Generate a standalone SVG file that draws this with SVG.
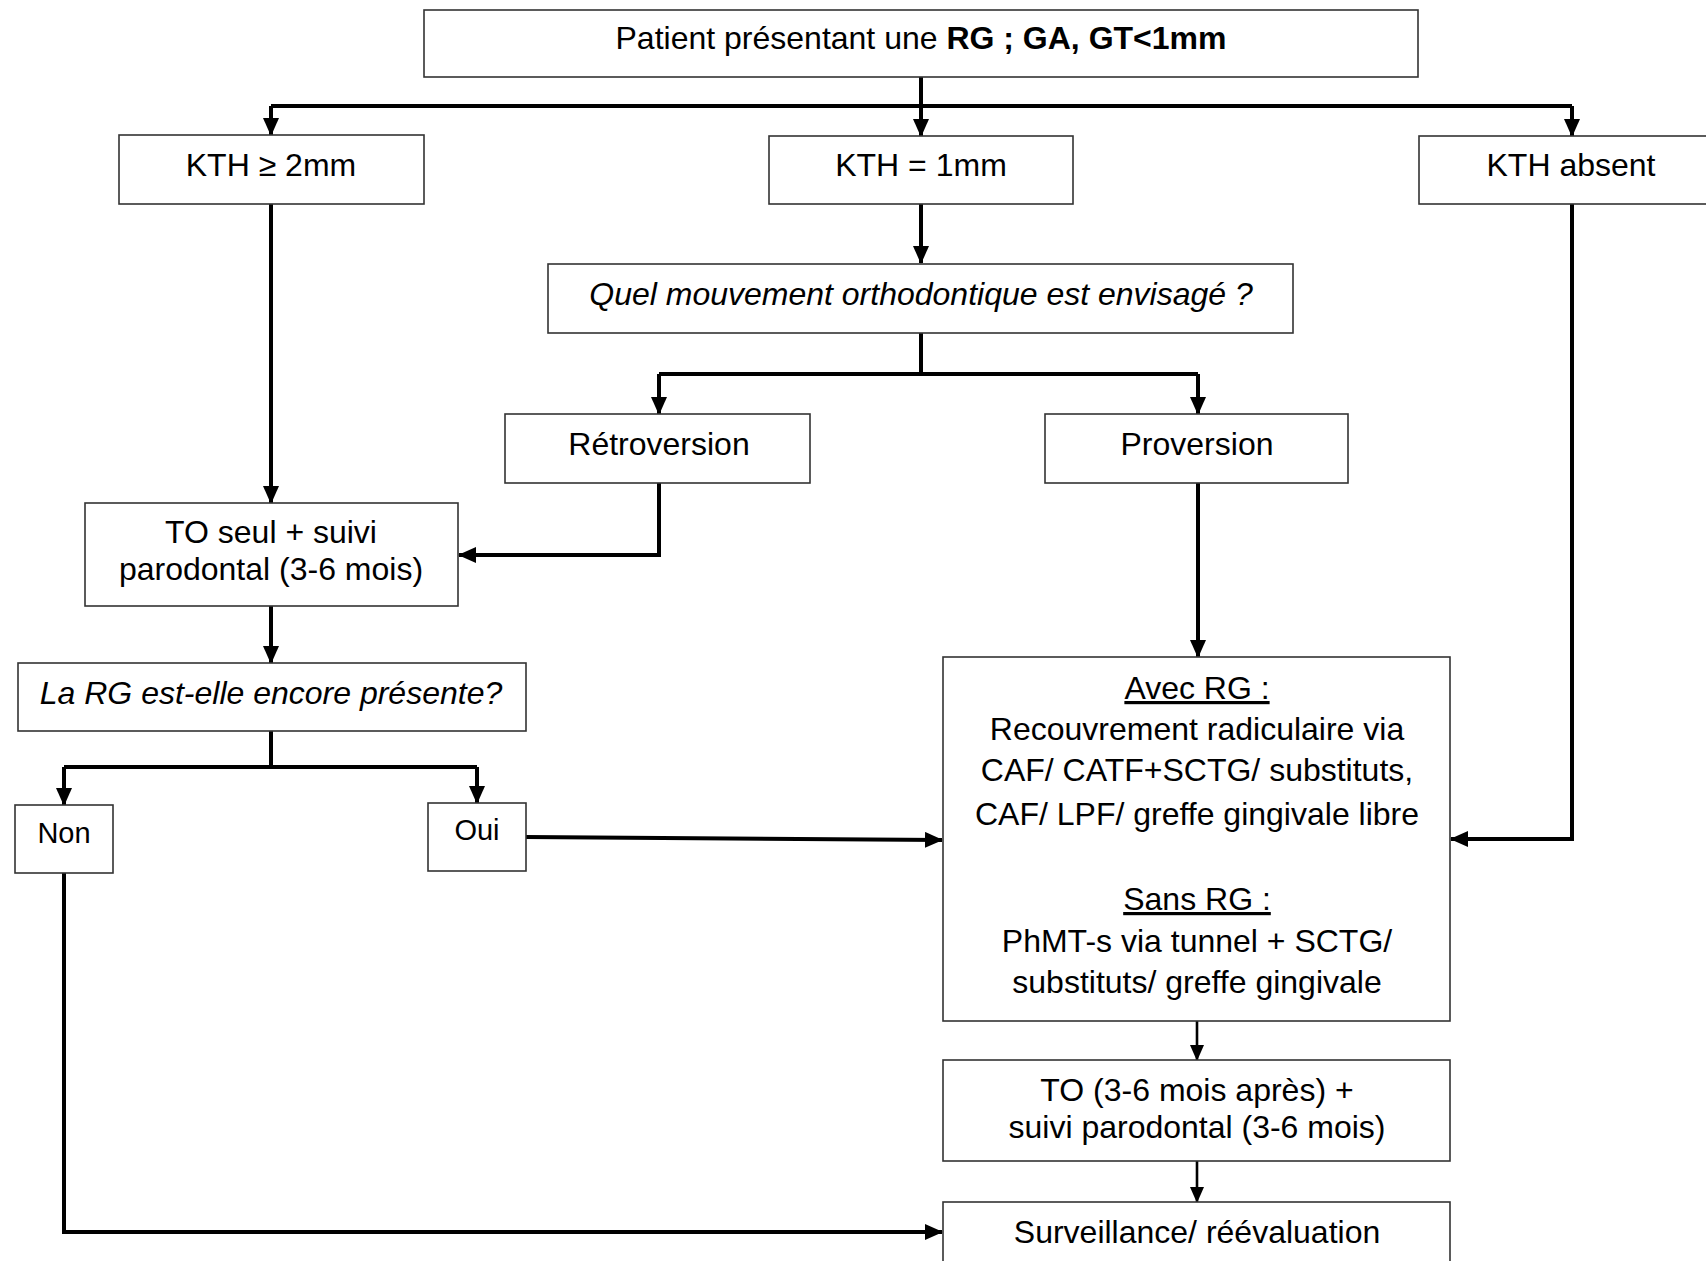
<svg xmlns="http://www.w3.org/2000/svg" width="1706" height="1261" viewBox="0 0 1706 1261">
<defs>
<style>
.box{fill:#fff;stroke:#333;stroke-width:1.6}
.t{font-family:"Liberation Sans",Arial,sans-serif;font-size:32px;fill:#000;text-anchor:middle}
.s{font-size:29px}
.i{font-style:italic}
.u{text-decoration:underline}
.c{fill:none;stroke:#000;stroke-width:4;stroke-linejoin:miter}
.c2{fill:none;stroke:#000;stroke-width:2.6}
</style>
<marker id="a" markerUnits="userSpaceOnUse" markerWidth="18" markerHeight="16" refX="17" refY="8" orient="auto">
<path d="M0,0 L18,8 L0,16 Z" fill="#000"/>
</marker>
<marker id="b" markerUnits="userSpaceOnUse" markerWidth="16" markerHeight="14" refX="15" refY="7" orient="auto">
<path d="M0,0 L16,7 L0,14 Z" fill="#000"/>
</marker>
</defs>
<g id="connectors">
<path class="c" d="M921,77 V106"/>
<path class="c" d="M271,106 H1572"/>
<path class="c" d="M271,106 V135" marker-end="url(#a)"/>
<path class="c" d="M921,106 V136" marker-end="url(#a)"/>
<path class="c" d="M1572,106 V136" marker-end="url(#a)"/>
<path class="c" d="M271,204 V503" marker-end="url(#a)"/>
<path class="c" d="M921,204 V263" marker-end="url(#a)"/>
<path class="c" d="M921,333 V374"/>
<path class="c" d="M659,374 H1198"/>
<path class="c" d="M659,374 V414" marker-end="url(#a)"/>
<path class="c" d="M1198,374 V414" marker-end="url(#a)"/>
<path class="c" d="M659,483 V555 H459" marker-end="url(#a)"/>
<path class="c" d="M1198,483 V657" marker-end="url(#a)"/>
<path class="c" d="M1572,204 V839 H1451" marker-end="url(#a)"/>
<path class="c" d="M271,606 V663" marker-end="url(#a)"/>
<path class="c" d="M271,731 V767"/>
<path class="c" d="M64,767 H477"/>
<path class="c" d="M64,767 V805" marker-end="url(#a)"/>
<path class="c" d="M477,767 V803" marker-end="url(#a)"/>
<path class="c" d="M526,837 L942,840" marker-end="url(#a)"/>
<path class="c" d="M64,873 V1232 H942" marker-end="url(#a)"/>
<path class="c2" d="M1197,1021 V1060" marker-end="url(#b)"/>
<path class="c2" d="M1197,1161 V1202" marker-end="url(#b)"/>
</g>
<g id="n-top">
<rect class="box" x="424" y="10" width="994" height="67"/>
<text class="t" x="921" y="49">Patient présentant une <tspan font-weight="bold">RG ; GA, GT&lt;1mm</tspan></text>
</g>
<g id="n-kth2">
<rect class="box" x="119" y="135" width="305" height="69"/>
<text class="t" x="271" y="176">KTH ≥ 2mm</text>
</g>
<g id="n-kth1">
<rect class="box" x="769" y="136" width="304" height="68"/>
<text class="t" x="921" y="176">KTH = 1mm</text>
</g>
<g id="n-kth0">
<rect class="box" x="1419" y="136" width="300" height="68"/>
<text class="t" x="1571" y="176">KTH absent</text>
</g>
<g id="n-quel">
<rect class="box" x="548" y="264" width="745" height="69"/>
<text class="t i" x="921" y="305">Quel mouvement orthodontique est envisagé ?</text>
</g>
<g id="n-retro">
<rect class="box" x="505" y="414" width="305" height="69"/>
<text class="t" x="659" y="455">Rétroversion</text>
</g>
<g id="n-pro">
<rect class="box" x="1045" y="414" width="303" height="69"/>
<text class="t" x="1197" y="455">Proversion</text>
</g>
<g id="n-toseul">
<rect class="box" x="85" y="503" width="373" height="103"/>
<text class="t" x="271" y="543">TO seul + suivi</text>
<text class="t" x="271" y="580">parodontal (3-6 mois)</text>
</g>
<g id="n-larg">
<rect class="box" x="18" y="663" width="508" height="68"/>
<text class="t i" x="271" y="704">La RG est-elle encore présente?</text>
</g>
<g id="n-non">
<rect class="box" x="15" y="805" width="98" height="68"/>
<text class="t s" x="64" y="843">Non</text>
</g>
<g id="n-oui">
<rect class="box" x="428" y="803" width="98" height="68"/>
<text class="t s" x="477" y="840">Oui</text>
</g>
<g id="n-big">
<rect class="box" x="943" y="657" width="507" height="364"/>
<text class="t u" x="1197" y="699">Avec RG :</text>
<text class="t" x="1197" y="740">Recouvrement radiculaire via</text>
<text class="t" x="1197" y="781">CAF/ CATF+SCTG/ substituts,</text>
<text class="t" x="1197" y="825">CAF/ LPF/ greffe gingivale libre</text>
<text class="t u" x="1197" y="910">Sans RG :</text>
<text class="t" x="1197" y="952">PhMT-s via tunnel + SCTG/</text>
<text class="t" x="1197" y="993">substituts/ greffe gingivale</text>
</g>
<g id="n-to">
<rect class="box" x="943" y="1060" width="507" height="101"/>
<text class="t" x="1197" y="1101">TO (3-6 mois après) +</text>
<text class="t" x="1197" y="1138">suivi parodontal (3-6 mois)</text>
</g>
<g id="n-surv">
<rect class="box" x="943" y="1202" width="507" height="80"/>
<text class="t" x="1197" y="1243">Surveillance/ réévaluation</text>
</g>
</svg>
